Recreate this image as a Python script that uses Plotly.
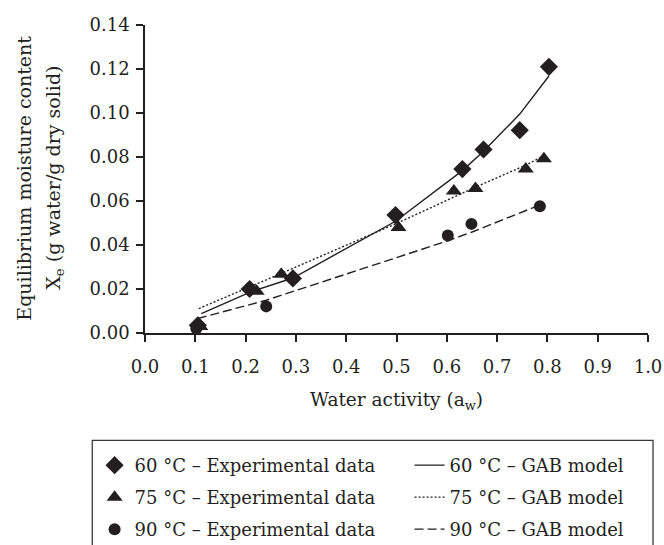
import plotly.graph_objects as go

# ---- data ----
aw_60 = [0.105, 0.208, 0.294, 0.498, 0.631, 0.673, 0.745, 0.803]
xe_60 = [0.0035, 0.0200, 0.0248, 0.0536, 0.0745, 0.0834, 0.0922, 0.1210]

aw_75 = [0.110, 0.222, 0.271, 0.504, 0.614, 0.657, 0.757, 0.793]
xe_75 = [0.0030, 0.0190, 0.0267, 0.0479, 0.0646, 0.0657, 0.0746, 0.0792]

aw_90 = [0.102, 0.241, 0.602, 0.649, 0.785]
xe_90 = [0.0020, 0.0121, 0.0443, 0.0496, 0.0576]

gab_aw_60 = [0.112, 0.208, 0.294, 0.498, 0.631, 0.673, 0.745, 0.803]
gab_xe_60 = [0.0088, 0.0185, 0.0250, 0.0508, 0.0738, 0.0826, 0.0995, 0.1168]

gab_aw_75 = [0.107, 0.222, 0.271, 0.504, 0.614, 0.657, 0.757, 0.793]
gab_xe_75 = [0.0111, 0.0222, 0.0271, 0.0502, 0.0620, 0.0663, 0.0763, 0.0806]

gab_aw_90 = [0.105, 0.241, 0.602, 0.649, 0.785]
gab_xe_90 = [0.0066, 0.0149, 0.0419, 0.0458, 0.0582]

x_ticks = [0.0, 0.1, 0.2, 0.3, 0.4, 0.5, 0.6, 0.7, 0.8, 0.9, 1.0]
y_ticks = [0.00, 0.02, 0.04, 0.06, 0.08, 0.10, 0.12, 0.14]

names_exp = ["60 °C – Experimental data", "75 °C – Experimental data", "90 °C – Experimental data"]
names_gab = ["60 °C – GAB model", "75 °C – GAB model", "90 °C – GAB model"]

INK = "#231f20"
FONT = "DejaVu Serif"

fig = go.Figure()

exp_sets = [(aw_60, xe_60, "diamond", 14), (aw_75, xe_75, "triangle-up", 14), (aw_90, xe_90, "circle", 12)]
for i, (xs, ys, sym, sz) in enumerate(exp_sets):
    fig.add_trace(go.Scatter(
        x=xs, y=ys, mode="markers", name=names_exp[i],
        marker=dict(symbol=sym, size=sz, color=INK, line=dict(width=0)),
        legend="legend", legendgroup="e%d" % i,
    ))

gab_sets = [(gab_aw_60, gab_xe_60, "solid"), (gab_aw_75, gab_xe_75, "2px,2px"), (gab_aw_90, gab_xe_90, "9px,4px")]
for i, (xs, ys, dash) in enumerate(gab_sets):
    fig.add_trace(go.Scatter(
        x=xs, y=ys, mode="lines", name=names_gab[i],
        line=dict(color=INK, width=1.4, dash=dash),
        legend="legend2", legendgroup="g%d" % i,
    ))

axis_common = dict(
    showline=True, linecolor=INK, linewidth=1.5,
    ticks="outside", ticklen=7, tickwidth=1.5, tickcolor=INK,
    showgrid=False, zeroline=False,
    tickfont=dict(family=FONT, size=18, color=INK),
)

fig.update_layout(
    width=664, height=545,
    margin=dict(l=145.4, r=15.7, t=25, b=212.3, autoexpand=False),
    paper_bgcolor="white", plot_bgcolor="white",
    font=dict(family=FONT, size=18, color=INK),
    xaxis=dict(range=[0, 1], tickvals=x_ticks, ticktext=["%.1f" % v for v in x_ticks],
               ticklabelstandoff=10, **axis_common),
    yaxis=dict(range=[0, 0.14], tickvals=y_ticks, ticktext=["%.2f" % v for v in y_ticks],
               ticklabelstandoff=3, **axis_common),
    legend=dict(x=-0.1002, y=-0.37, xanchor="left", yanchor="top", orientation="v",
                tracegroupgap=5.6, bgcolor="rgba(0,0,0,0)", borderwidth=0,
                font=dict(family=FONT, size=18, color=INK)),
    legend2=dict(x=0.526, y=-0.37, xanchor="left", yanchor="top", orientation="v",
                 tracegroupgap=5.6, bgcolor="rgba(0,0,0,0)", borderwidth=0,
                 font=dict(family=FONT, size=18, color=INK)),
    shapes=[dict(type="rect", xref="paper", yref="paper",
                 x0=-0.1048, x1=1.010, y0=-0.3487, y1=-0.85,
                 line=dict(color="#3a3a3a", width=1.3), fillcolor="rgba(0,0,0,0)")],
    annotations=[
        dict(text="Equilibrium moisture content", xref="paper", yref="paper",
             x=-0.2394, y=0.5028, xanchor="center", yanchor="middle", textangle=-90,
             showarrow=False, font=dict(family=FONT, size=19, color=INK)),
        dict(text="X<sub>e</sub> (g water/g dry solid)", xref="paper", yref="paper",
             x=-0.1798, y=0.5028, xanchor="center", yanchor="middle", textangle=-90,
             showarrow=False, font=dict(family=FONT, size=19, color=INK)),
        dict(text="Water activity (a<sub>w</sub>)", xref="paper", yref="paper",
             x=0.5, y=-0.222, xanchor="center", yanchor="middle",
             showarrow=False, font=dict(family=FONT, size=18.5, color=INK)),
    ],
)

fig.write_html("out.html")
